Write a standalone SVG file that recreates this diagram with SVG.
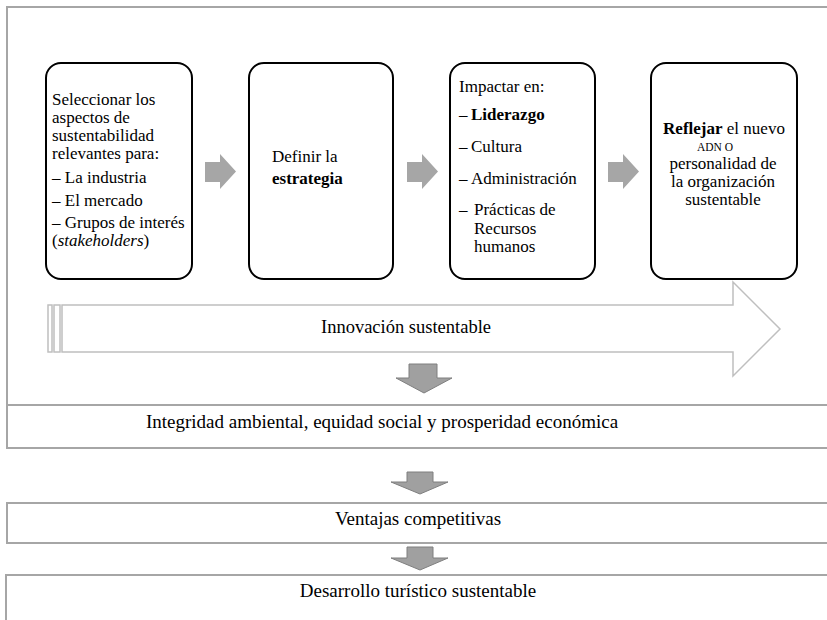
<svg xmlns="http://www.w3.org/2000/svg" width="827" height="620" viewBox="0 0 827 620" font-family="'Liberation Serif', 'Times New Roman', Times, 'Nimbus Roman', 'DejaVu Serif', serif" font-size="17">
  <style>
    .t { font-family: "Liberation Serif", "Times New Roman", Times, "Nimbus Roman", "DejaVu Serif", serif; font-size: 17px; fill: #000; }
    .band { font-size: 19px; }
    .b { font-weight: bold; }
    .frame { fill: none; stroke: #A6A6A6; stroke-width: 2; }
    .step { fill: #fff; stroke: #000; stroke-width: 2; }
    .right { fill: #A6A6A6; stroke: none; }
    .down { fill: #A0A0A0; stroke: #7F7F7F; stroke-width: 1; }
    .innov { fill: #fff; stroke: #BFBFBF; stroke-width: 1.5; }
  </style>
  <rect width="827" height="620" fill="#fff"/>

  <!-- outer frame and result bands -->
  <g id="frame">
    <path class="frame" d="M 840 7 H 7 V 448 H 840"/>
  </g>
  <g id="integridad">
    <path class="frame" d="M 7 405 H 840"/>
    <text class="t band" x="382" y="428" text-anchor="middle">Integridad ambiental, equidad social y prosperidad económica</text>
  </g>
  <g id="ventajas">
    <rect class="frame" x="7" y="503" width="840" height="40"/>
    <text class="t band" x="418" y="525" text-anchor="middle">Ventajas competitivas</text>
  </g>
  <g id="desarrollo">
    <rect class="frame" x="6" y="575" width="840" height="60"/>
    <text class="t band" x="418" y="597" text-anchor="middle">Desarrollo turístico sustentable</text>
  </g>

  <!-- step boxes -->
  <g id="seleccionar">
    <rect class="step" x="46" y="63" width="146" height="216" rx="15"/>
    <text class="t" x="52" y="105">Seleccionar los</text>
    <text class="t" x="52" y="123">aspectos de</text>
    <text class="t" x="52" y="141">sustentabilidad</text>
    <text class="t" x="52" y="159">relevantes para:</text>
    <text class="t" x="52" y="183">– La industria</text>
    <text class="t" x="52" y="206">– El mercado</text>
    <text class="t" x="52" y="228">– Grupos de interés</text>
    <text class="t" x="52" y="246">(<tspan font-style="italic">stakeholders</tspan>)</text>
  </g>
  <g id="definir">
    <rect class="step" x="249" y="63" width="144" height="216" rx="15"/>
    <text class="t" x="272" y="162">Definir la</text>
    <text class="t b" x="272" y="184">estrategia</text>
  </g>
  <g id="impactar">
    <rect class="step" x="450" y="63" width="145" height="216" rx="15"/>
    <text class="t" x="459" y="92">Impactar en:</text>
    <text class="t" x="459" y="120">–<tspan class="b" x="471">Liderazgo</tspan></text>
    <text class="t" x="459" y="152">–<tspan x="471">Cultura</tspan></text>
    <text class="t" x="459" y="184">–<tspan x="471">Administración</tspan></text>
    <text class="t" x="459" y="215">–<tspan x="474">Prácticas de</tspan></text>
    <text class="t" x="474" y="234">Recursos</text>
    <text class="t" x="474" y="252">humanos</text>
  </g>
  <g id="reflejar">
    <rect class="step" x="651" y="63" width="146" height="216" rx="15"/>
    <text class="t" x="724" y="134" text-anchor="middle"><tspan class="b">Reflejar</tspan> el nuevo</text>
    <text class="t" x="697" y="151" style="font-size:11.5px">ADN O</text>
    <text class="t" x="723" y="169" text-anchor="middle">personalidad de</text>
    <text class="t" x="723" y="187" text-anchor="middle">la organización</text>
    <text class="t" x="723" y="205" text-anchor="middle">sustentable</text>
  </g>

  <!-- innovation band arrow -->
  <g id="innovacion">
    <rect class="innov" x="48" y="305" width="4" height="47"/>
    <rect class="innov" x="54" y="305" width="6" height="47"/>
    <path class="innov" d="M 62 305 H 733 V 282 L 780 329 L 733 376 V 352 H 62 Z"/>
    <text class="t" x="406" y="333" text-anchor="middle" style="font-size:18.5px">Innovación sustentable</text>
  </g>

  <!-- connectors -->
  <g id="connectors">
    <path class="right" d="M 205 162 H 220 V 154 L 236 171.5 L 220 189 V 182 H 205 Z"/>
    <path class="right" d="M 407 162 H 422 V 154 L 438 171.5 L 422 189 V 182 H 407 Z"/>
    <path class="right" d="M 608 162 H 623 V 154 L 639 171.5 L 623 189 V 182 H 608 Z"/>
    <path class="down" d="M 409 364 H 437 V 378 H 452 L 424 393 L 396 378 H 409 Z"/>
    <path class="down" d="M 407 472 H 433 V 482 H 448 L 420 494 L 391 482 H 407 Z"/>
    <path class="down" d="M 407 547 H 433 V 558 H 448 L 420 570 L 391 558 H 407 Z"/>
  </g>
</svg>
